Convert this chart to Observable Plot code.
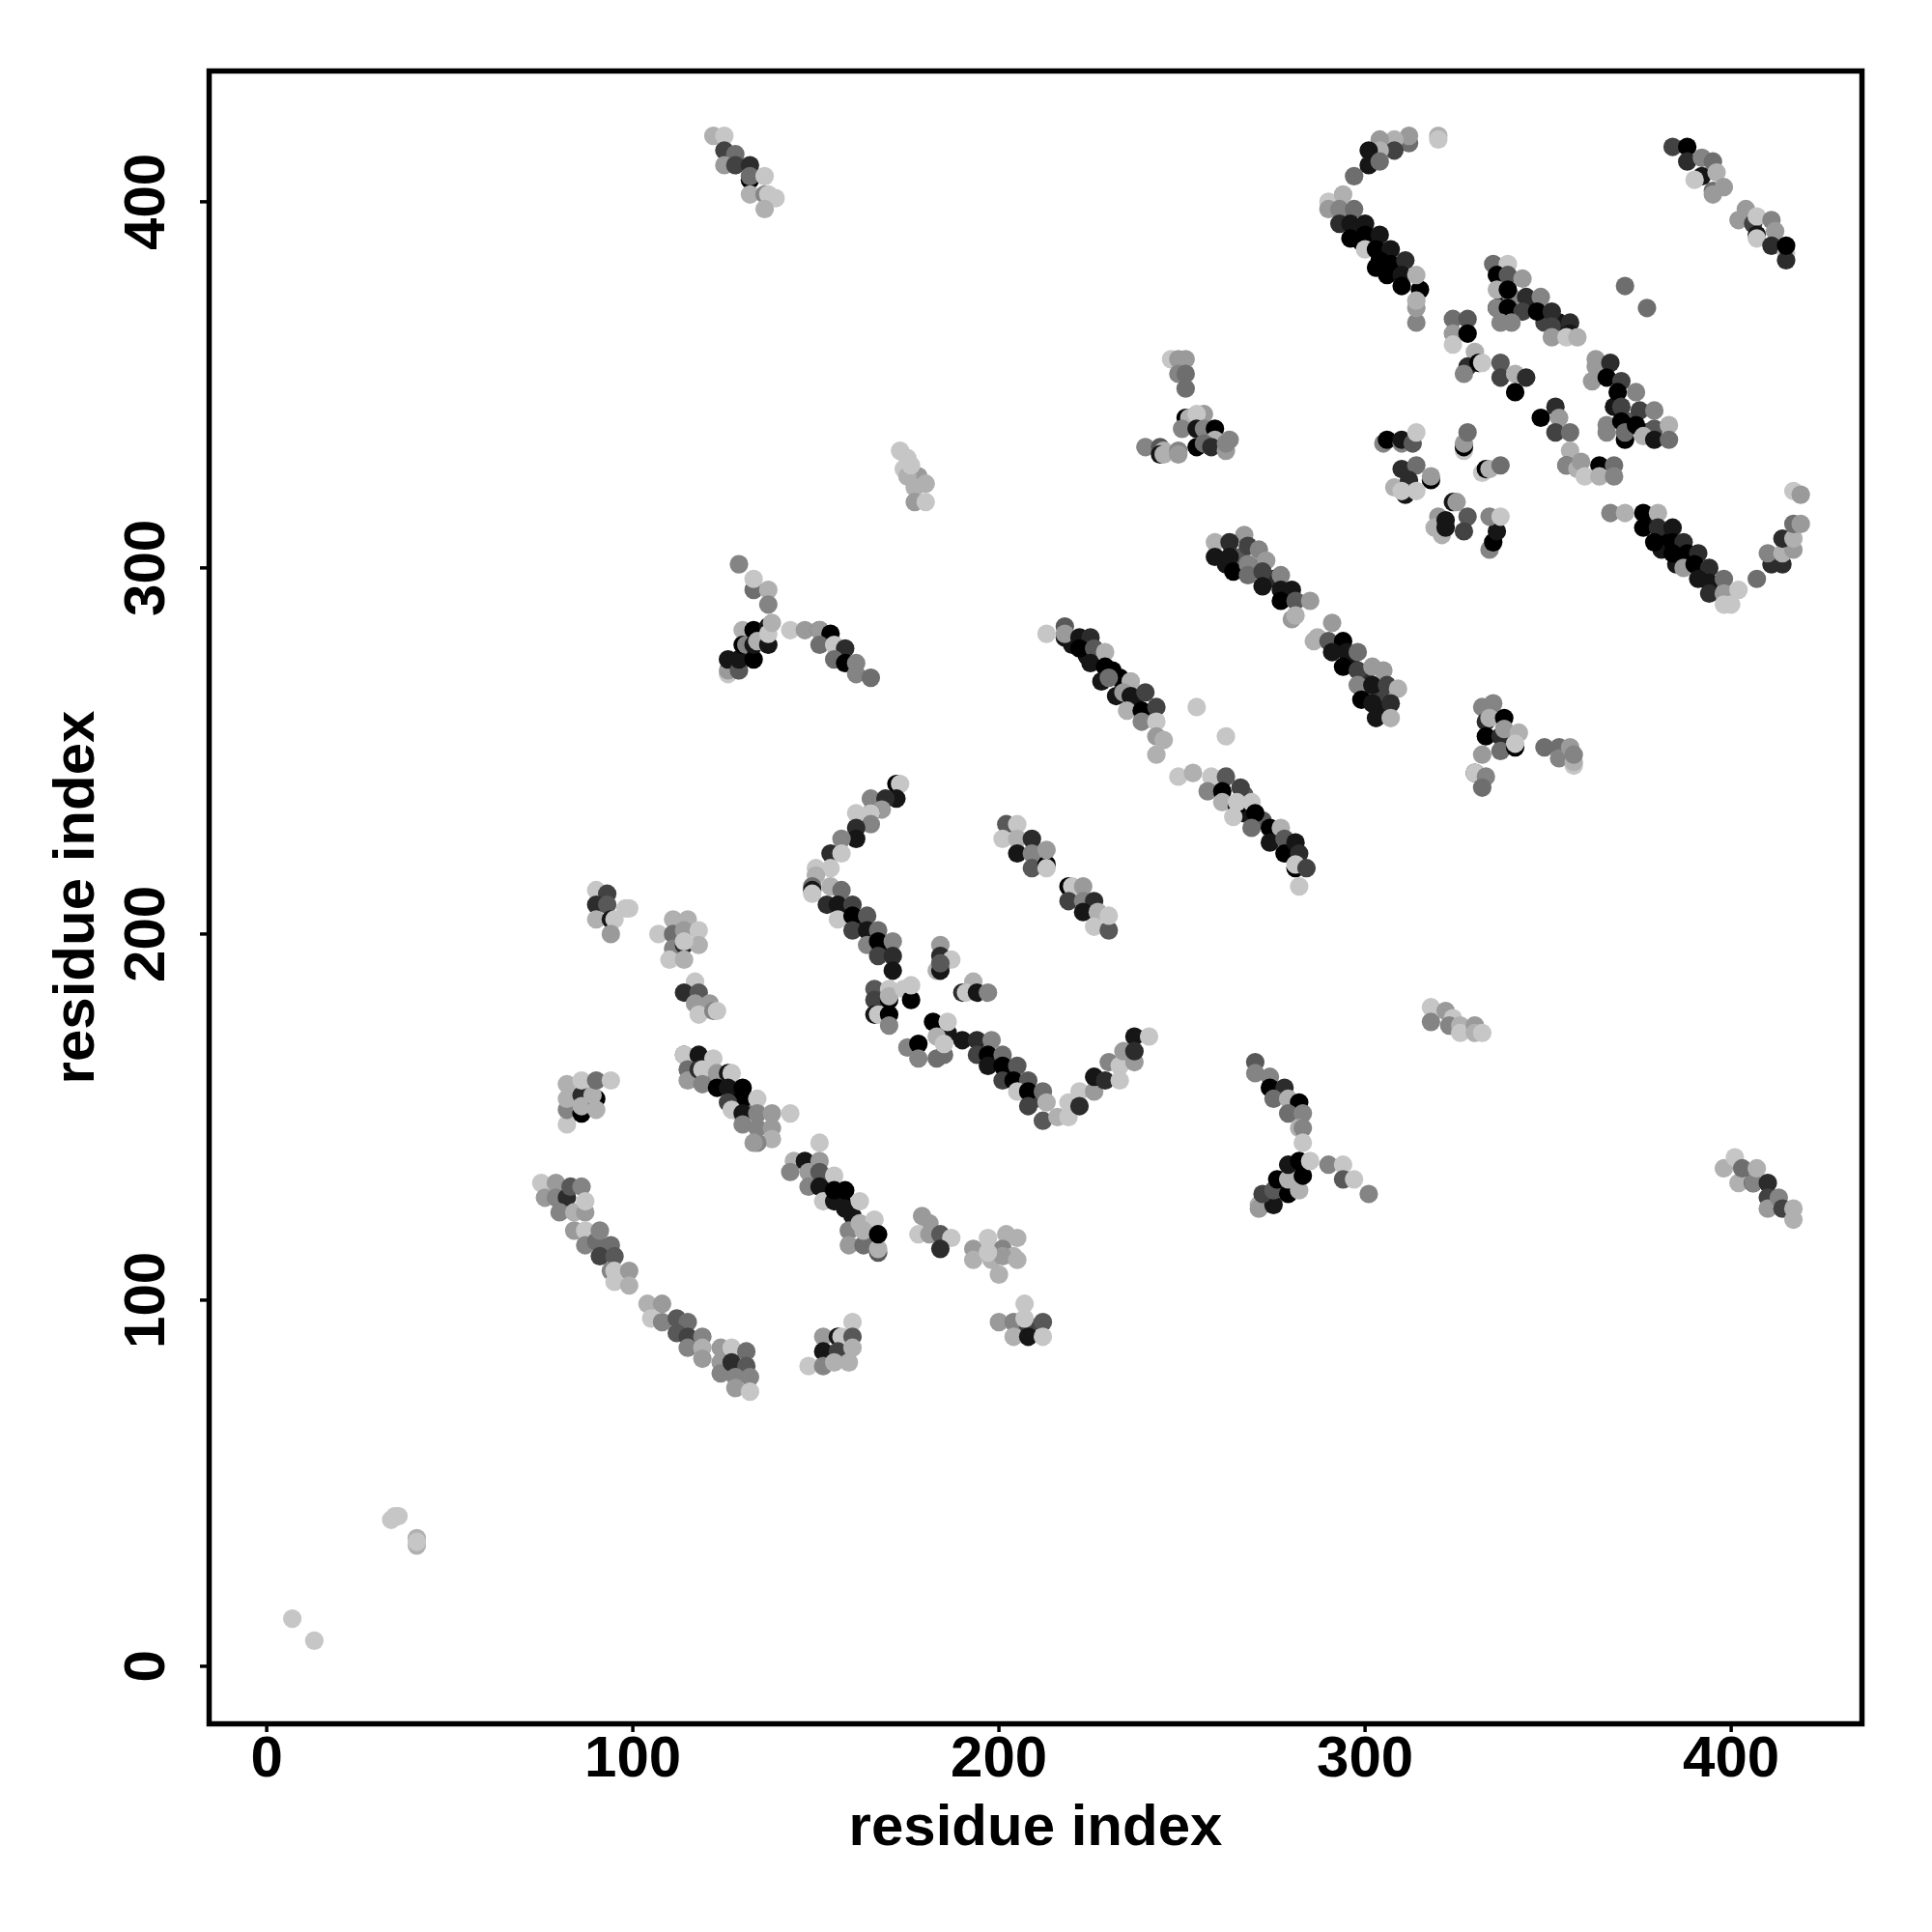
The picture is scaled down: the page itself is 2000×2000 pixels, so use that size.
<!DOCTYPE html>
<html><head><meta charset="utf-8">
<script src="https://cdn.jsdelivr.net/npm/d3@7"></script>
<script src="https://cdn.jsdelivr.net/npm/@observablehq/plot@0.6"></script>
<style>html,body{margin:0;padding:0;background:#fff}svg{display:block}</style>
</head><body><div id="chart"></div>
<script>
// each contact: [residue i, residue j, weight 0 (faint) .. 9 (strong)]
const buried=[[298,392,8],[302,389,8],[305,385,9],[308,382,8],[294,396,6],[299,389,9],[303,382,9],[378,312,8],[382,309,9],[386,305,9],[389,302,8],[392,299,8],[381,305,8],[385,301,8],[338,373,8],[340,374,3],[345,372,8],[349,367,6],[353,367,8],[337,378,1],[199,166,7],[203,162,8],[206,158,7],[210,155,6],[158,206,7],[162,203,8],[165,199,6],[169,196,8],[220,279,8],[224,276,8],[231,272,9],[234,268,6],[237,263,8],[267,238,5],[267,233,8],[272,231,5],[276,227,7],[280,222,8],[262,301,8],[266,303,5],[270,300,4],[275,297,7],[278,292,8],[292,279,7],[296,275,8],[300,270,7],[304,265,6],[300,266,5],[304,261,8],[121,160,5],[128,156,9],[132,153,4],[128,152,7],[149,133,5],[153,132,7],[157,127,9],[160,123,8],[164,117,2],[128,273,7],[131,276,5],[135,281,8],[132,277,1],[368,344,8],[372,340,5],[377,337,7]];
const nTerm=[[7,13,0],[13,7,0],[34,40,0],[35,41,0],[36,41,0],[41,33,1],[41,35,1],[41,34,0]];
const arcA=[[75,132,0],[79,132,2],[76,128,2],[79,128,3],[82,128,7],[83,131,5],[86,131,3],[80,124,3],[84,124,1],[87,124,2],[87,127,0],[84,119,2],[87,119,0],[87,115,3],[90,116,4],[91,119,3],[94,115,4],[91,112,6],[95,112,5],[94,108,3],[95,108,0],[99,108,2],[95,105,0],[99,104,1]];
const arcB=[[104,99,1],[108,99,2],[105,95,0],[108,94,3],[112,95,5],[115,94,4],[112,91,5],[115,90,6],[115,87,3],[119,90,3],[119,87,1],[119,84,2],[124,87,2],[127,87,0],[131,86,4],[124,83,2],[124,80,3],[127,83,7],[131,82,5],[128,79,3],[132,79,3],[128,76,2],[132,75,0]];
const blobD=[[90,212,0],[93,211,6],[90,208,7],[93,208,5],[98,207,0],[99,207,0],[90,204,1],[94,204,8],[95,204,0],[94,200,2]];
const blobE=[[111,204,1],[115,204,1],[107,200,0],[111,200,4],[114,201,2],[118,201,0],[111,196,3],[114,197,7],[118,197,1],[110,193,0],[114,193,1],[114,198,0]];
const blobF=[[117,187,0],[114,184,7],[118,184,5],[117,181,2],[121,181,2],[118,178,0],[122,179,3],[123,179,0]];
const blobH=[[82,148,0],[82,152,3],[82,159,1],[82,155,1],[86,151,9],[86,156,7],[86,153,1],[86,160,0],[90,155,9],[90,152,1],[89,156,1],[90,160,4],[94,160,0]];
const helixG=[[114,167,5],[114,167,0],[118,167,8],[122,166,0],[115,163,4],[115,160,2],[118,163,7],[119,163,0],[119,159,3],[123,162,2],[126,162,8],[127,162,0],[123,158,9],[126,158,8],[130,158,9],[130,155,9],[126,154,6],[134,155,0],[127,152,0],[130,151,8],[134,151,3],[138,151,2],[143,151,0],[130,148,3],[134,147,3],[138,147,2],[138,144,1],[134,143,3],[133,143,2]];
const helixH=[[151,143,0],[144,138,1],[143,135,3],[147,138,8],[151,138,2],[148,135,2],[151,135,5],[148,131,3],[155,134,0],[151,131,8],[152,127,0],[155,127,8],[155,130,9],[158,130,9],[158,125,8],[162,127,0],[159,119,3],[162,121,1],[166,122,0],[159,115,2],[163,115,4],[163,119,1],[167,113,5],[167,114,1],[167,118,9]];
const blobI=[[179,123,2],[181,121,2],[178,118,0],[181,118,2],[184,118,5],[187,117,0],[184,114,7]];
const blobJ=[[193,114,2],[197,117,0],[202,118,1],[193,111,1],[198,111,1],[201,114,3],[205,117,1],[200,107,1],[204,112,1],[201,112,2],[197,113,0],[205,111,1]];
const blobK=[[160,94,0],[152,90,2],[156,90,8],[157,90,0],[160,90,5],[152,86,8],[156,86,6],[160,87,1],[148,82,0],[152,82,3],[155,83,1],[159,83,1]];
const blobL=[[200,94,2],[207,99,0],[204,94,3],[204,90,1],[208,93,6],[208,90,8],[212,94,5],[212,90,0],[207,95,0]];
const strandM=[[172,241,9],[173,241,0],[172,237,8],[165,237,3],[169,237,7],[168,234,2],[165,233,8],[165,233,0],[161,233,0],[165,230,3],[161,229,7],[161,226,8],[157,226,3],[154,222,7],[157,222,0],[154,218,0],[150,218,0],[150,216,1],[149,213,4],[149,212,8],[149,211,0]];
const helixN=[[154,213,1],[157,212,4],[153,208,7],[156,208,8],[160,208,6],[156,204,0],[160,205,9],[164,205,5],[160,201,6],[164,201,8],[167,201,4],[164,197,3],[167,198,9],[171,198,3],[167,194,6],[171,194,7],[171,190,8]];
const blobO=[[166,185,5],[166,182,6],[170,185,0],[170,182,9],[170,183,1],[174,185,0],[176,182,9],[176,186,0],[166,178,8],[167,178,0],[170,178,9],[170,175,3]];
const blobP=[[184,197,2],[184,194,7],[187,193,0],[183,190,1],[184,190,8],[184,192,5]];
const blobQ=[[193,187,1],[190,184,7],[191,184,0],[194,184,8],[197,184,3]];
const blobR=[[182,176,9],[186,173,8],[186,176,0],[175,169,3],[178,170,9],[178,166,3],[183,166,4],[185,167,4],[183,172,1],[185,170,0]];
const helixS=[[190,171,8],[194,171,7],[198,171,3],[194,167,6],[197,167,9],[201,167,4],[197,164,8],[201,164,9],[205,164,5],[201,160,6],[204,160,9],[208,160,5],[205,157,0],[208,157,9],[212,157,4],[208,153,6],[212,149,5],[213,154,1],[216,150,1],[219,150,0],[219,154,0]];
const strandT=[[222,157,0],[222,153,7],[226,157,2],[226,161,8],[229,160,7],[230,165,3],[233,160,0],[233,164,0],[234,168,2],[237,165,2],[237,172,8],[237,168,7],[241,172,0]];
const blobU=[[202,230,5],[205,230,0],[201,226,0],[205,226,1],[209,226,7],[205,222,8],[209,222,3],[209,218,5],[213,219,9],[213,218,0],[213,223,2]];
const blobV=[[219,213,9],[220,213,0],[223,213,2],[219,209,6],[223,209,3],[226,209,7],[223,206,8],[227,206,1],[226,202,0],[230,201,5],[230,205,0]];
const helixW=[[213,282,0],[218,284,5],[218,281,8],[218,282,2],[222,281,8],[225,281,7],[222,278,9],[226,278,5],[229,277,1],[225,274,8],[229,273,9],[228,269,8],[233,270,9],[230,270,4],[236,269,1],[232,265,8],[234,266,2],[236,265,8],[240,266,6],[235,261,1],[239,261,9],[243,262,6],[239,258,3],[243,258,0],[243,254,2],[245,253,1],[243,249,1]];
const lone=[[254,262,0],[262,254,0],[371,377,4],[377,371,4],[407,297,4]];
const helixX=[[249,243,0],[253,244,1],[258,243,0],[262,243,5],[257,239,3],[261,239,9],[266,240,6],[261,236,1],[265,235,9],[265,236,0],[269,236,0],[264,232,0],[270,233,9],[269,229,4],[274,229,9],[277,229,1],[274,225,8],[278,226,5],[278,222,9],[281,225,8],[282,222,7],[281,218,9],[281,219,0],[284,218,6],[282,213,0]];
const helixY=[[259,307,1],[267,309,2],[263,307,7],[259,303,8],[263,303,8],[268,306,6],[271,305,3],[264,299,9],[268,301,3],[268,298,4],[273,302,2],[272,299,6],[272,295,8],[277,298,3],[277,294,8],[280,294,8],[277,291,9],[281,291,5],[285,291,2],[280,286,2],[281,287,1]];
const helixZ=[[291,285,2],[286,280,1],[287,281,1],[290,280,5],[294,280,9],[291,277,8],[295,277,8],[298,277,4],[294,273,9],[298,272,6],[302,273,2],[305,272,2],[298,268,3],[302,268,8],[306,268,6],[309,267,1],[299,264,9],[302,263,8],[307,263,7],[303,259,8],[307,259,1]];
const blobAA=[[332,262,3],[335,263,3],[333,258,7],[334,259,1],[338,259,9],[333,254,9],[337,254,7],[338,256,2],[342,255,1],[337,250,4],[341,251,9],[341,252,0],[332,249,2],[330,244,8],[330,244,0],[333,243,3],[332,240,4]];
const blobAB=[[349,251,4],[353,251,4],[353,248,3],[357,246,0],[357,247,1],[356,251,2],[357,249,3]];
const blobAC=[[318,180,0],[318,176,3],[322,179,2],[324,177,0],[323,175,3],[326,175,1],[326,173,0],[330,175,2],[330,173,1],[332,173,0]];
const signalAD=[[129,301,3],[133,294,4],[133,297,0],[137,294,1],[137,290,3],[126,271,0],[126,272,2],[126,275,8],[129,272,5],[129,275,8],[130,283,1],[130,279,9],[131,279,3],[133,275,9],[133,283,9],[133,279,8],[134,280,1],[137,279,8],[137,284,8],[137,282,0],[138,285,1]];
const strandAE=[[143,283,0],[147,283,2],[151,283,6],[151,283,2],[154,282,9],[151,279,4],[155,279,0],[158,278,7],[155,275,4],[158,274,9],[161,274,3],[161,271,3],[165,270,4]];
const topA=[[122,418,1],[125,418,0],[125,414,6],[128,413,4],[125,410,2],[128,410,6],[132,410,7],[132,406,9],[132,407,4],[136,407,0],[132,402,1],[136,402,3],[137,402,0],[139,401,0],[136,398,1]];
const blobAF=[[247,357,0],[249,357,2],[251,357,2],[249,353,3],[251,353,4],[251,349,4]];
const blobAG=[[240,333,3],[244,333,5],[245,332,1],[244,331,8],[245,331,1],[249,332,3],[249,331,2],[251,341,9],[252,341,1],[250,338,3],[256,342,2],[254,342,0],[254,338,8],[256,338,3],[259,338,9],[254,333,9],[259,335,1],[263,335,3],[256,334,4],[258,333,7],[262,332,2],[262,334,3]];
const blobAH=[[173,332,0],[175,330,0],[174,327,0],[178,325,2],[175,325,1],[180,323,1],[177,322,1],[177,318,2],[180,318,0],[176,328,0]];
const arcAI=[[297,407,4],[312,416,4],[312,418,2],[308,417,1],[304,417,2],[308,414,6],[304,414,1],[301,414,8],[301,410,8],[304,411,4],[320,418,1],[320,417,0]];
const helixAJ=[[290,400,0],[294,402,1],[290,398,2],[293,398,3],[297,398,4],[293,394,7],[296,394,8],[300,394,8],[296,390,9],[300,391,9],[304,391,8],[300,387,0],[303,387,9],[307,387,8],[304,384,9],[307,383,9],[311,384,7],[306,380,9],[310,380,8],[310,377,9],[315,376,9],[314,380,1],[314,367,3],[314,371,2],[314,373,1]];
const helixAK=[[384,415,6],[388,415,9],[388,411,7],[392,412,3],[395,411,4],[392,407,8],[390,406,0],[396,408,1],[395,403,4],[398,404,2],[395,402,2]];
const helixAL=[[404,398,2],[402,395,2],[406,394,6],[407,396,0],[411,395,3],[407,391,8],[412,392,2],[407,390,0],[411,388,7],[415,386,0],[415,384,7],[415,388,9]];
const helixAM=[[335,383,4],[339,383,0],[336,380,9],[339,380,5],[343,379,2],[336,376,1],[339,376,9],[344,374,7],[348,374,3],[336,371,9],[336,371,3],[339,371,9],[343,370,6],[347,370,9],[351,370,7],[351,366,6],[356,367,7],[337,367,3],[340,367,3],[351,363,2],[356,364,8],[355,363,0],[358,363,1]];
const blobAN=[[324,368,4],[328,368,5],[324,364,2],[328,364,9],[324,361,0],[330,359,1],[328,355,7],[331,356,9],[332,356,0],[327,353,3]];
const blobAO=[[337,356,5],[337,352,6],[341,353,1],[344,352,7],[341,348,9]];
const blobAP=[[352,344,7],[348,341,9],[353,341,2],[352,337,6],[356,337,4]];
const helixAQ=[[363,357,2],[363,355,2],[367,356,7],[362,351,2],[366,352,9],[370,351,6],[369,348,9],[374,348,3],[370,344,6],[375,343,6],[379,343,3],[366,339,3],[370,340,9],[366,337,3],[371,335,9],[371,337,4],[374,339,9],[379,338,5],[383,339,1],[376,336,1],[379,335,8],[383,335,4]];
const blobAR=[[305,334,3],[306,335,9],[310,334,3],[310,335,8],[313,334,5],[314,337,0],[310,327,7],[314,328,4],[318,324,9],[318,325,2],[308,322,1],[312,324,7],[311,320,8],[310,321,0],[314,321,0]];
const blobAS=[[327,332,0],[327,333,9],[327,334,2],[328,337,4],[332,326,0],[333,327,9],[334,327,1],[337,328,4]];
const blobAT=[[324,318,8],[325,318,2],[320,314,2],[328,314,5],[319,311,1],[322,313,8],[321,309,1],[327,310,6],[322,311,8]];
const blobAU=[[334,305,3],[335,307,9],[336,310,8],[334,314,3],[337,314,0]];
const blobAV=[[356,332,1],[355,328,6],[355,328,3],[358,327,1],[359,329,2],[364,328,9],[368,328,4],[360,325,0],[364,325,1],[368,325,3]];
const helixAW=[[367,315,3],[371,315,1],[376,315,9],[380,315,1],[376,311,9],[380,311,7],[384,311,8],[379,307,9],[384,307,9],[387,307,7],[384,304,9],[388,304,9],[391,304,7],[387,300,2],[390,301,9],[394,300,7],[391,297,8],[394,296,8],[394,293,7],[398,297,4],[398,293,2],[402,294,0],[398,290,0],[400,290,0]];
const strandAX=[[411,301,7],[414,301,7],[410,304,3],[414,304,1],[417,305,2],[414,308,7],[417,308,1],[417,312,4],[419,312,2],[417,321,0],[419,320,2]];
const cornerAY=[[398,136,1],[401,139,0],[402,132,1],[403,136,4],[406,132,9],[406,132,3],[407,136,1],[410,132,7],[410,128,6],[410,125,2],[413,128,3],[414,125,6],[417,125,1],[417,122,1]];
const strandAZ=[[270,165,5],[270,162,3],[274,161,3],[274,158,9],[278,158,7],[275,155,4],[279,155,1],[282,154,9],[279,151,4],[283,151,3],[282,147,1],[283,147,3],[283,143,0]];
const strandBA=[[271,126,1],[271,125,2],[275,126,8],[272,129,6],[275,130,5],[276,133,9],[279,129,9],[279,133,1],[282,130,1],[279,137,8],[283,134,9],[282,138,9],[285,138,0],[290,137,3],[294,137,0],[294,133,5],[297,133,0],[301,129,3]];
const xTicks=[0,100,200,300,400];
const yTicks=[0,100,200,300,400];
const axisName="residue index";
const clusters=[buried,nTerm,arcA,arcB,blobD,blobE,blobF,blobH,helixG,helixH,blobI,blobJ,blobK,blobL,strandM,helixN,blobO,blobP,blobQ,blobR,helixS,strandT,blobU,blobV,helixW,lone,helixX,helixY,helixZ,blobAA,blobAB,blobAC,signalAD,strandAE,topA,blobAF,blobAG,blobAH,arcAI,helixAJ,helixAK,helixAL,helixAM,blobAN,blobAO,blobAP,helixAQ,blobAR,blobAS,blobAT,blobAU,blobAV,helixAW,strandAX,cornerAY,strandAZ,strandBA];
const contacts=clusters.flat().map(([i,j,w])=>({i,j,w}));
const font="'Liberation Sans',Arial,sans-serif";
const chart=Plot.plot({
  width:2000,height:2000,
  marginLeft:216,marginRight:73,marginTop:73,marginBottom:216,
  style:{background:"#fff",fontFamily:font},
  x:{domain:[-15.72,435.72]},
  y:{domain:[-15.72,435.72]},
  color:{type:"linear",domain:[0,9],range:["#c6c6c6","#000000"]},
  marks:[
    Plot.dot(contacts,{x:"i",y:"j",r:9.6,fill:"w",stroke:null}),
    Plot.frame({stroke:"#000",strokeWidth:5.5}),
    Plot.axisX({ticks:xTicks,tickSize:9,tickPadding:3,strokeWidth:3.5,fontSize:60,fontWeight:"bold",fill:"#000",label:axisName,labelAnchor:"center",labelArrow:"none",labelOffset:125}),
    Plot.axisY({ticks:yTicks,tickSize:9,tickRotate:-90,tickPadding:38,strokeWidth:3.5,fontSize:60,fontWeight:"bold",fill:"#000",label:axisName,labelAnchor:"center",labelArrow:"none",labelOffset:162})
  ]
});
document.getElementById("chart").append(chart);
</script>
</body></html>
